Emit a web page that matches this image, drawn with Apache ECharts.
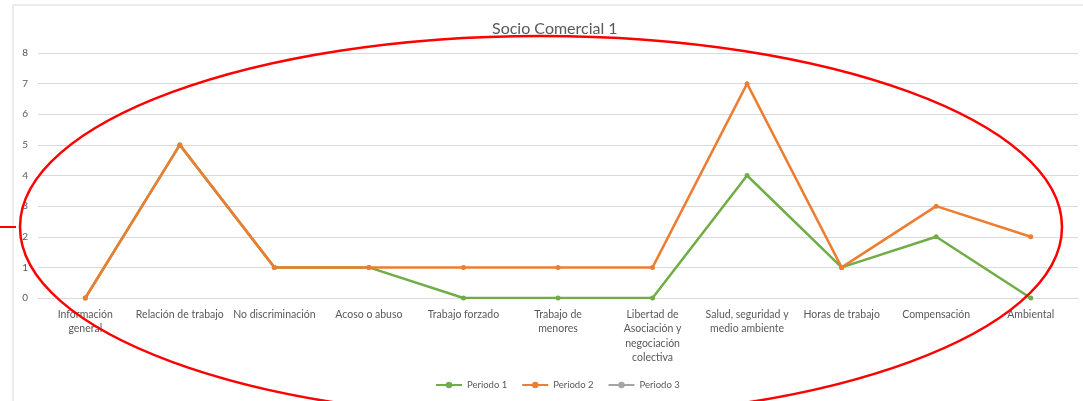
<!DOCTYPE html>
<html>
<head>
<meta charset="utf-8">
<script src="https://cdn.jsdelivr.net/npm/echarts@6/dist/echarts.min.js"></script>
<style>html,body{margin:0;padding:0;background:#fff;}#c{width:1083px;height:401px;}</style>
</head>
<body>
<div id="c"></div>
<script>
const categories = [
  'Información\ngeneral',
  'Relación de trabajo',
  'No discriminación',
  'Acoso o abuso',
  'Trabajo forzado',
  'Trabajo de\nmenores',
  'Libertad de\nAsociación y\nnegociación\ncolectiva',
  'Salud, seguridad y\nmedio ambiente',
  'Horas de trabajo',
  'Compensación',
  'Ambiental'
];
const periodo1 = [0, 5, 1, 1, 0, 0, 0, 4, 1, 2, 0];
const periodo2 = [0, 5, 1, 1, 1, 1, 1, 7, 1, 3, 2];
const periodo3 = [null, null, null, null, null, null, null, null, null, null, null];
const seriesNames = ['Periodo 1', 'Periodo 2', 'Periodo 3'];
const yTicks = { min: 0, max: 8, interval: 1 };

const chart = echarts.init(document.getElementById('c'));
const font = 'Lato, "Open Sans", sans-serif';
const mk = (name, data, color) => ({
  name, type: 'line', data,
  symbol: 'circle', symbolSize: 5,
  lineStyle: { color, width: 2.5 },
  itemStyle: { color },
  connectNulls: false
});
chart.setOption({
  animation: false,
  title: {
    text: 'Socio Comercial 1', left: 487, top: 16,
    textStyle: { fontFamily: font, fontSize: 16, fontWeight: 'normal', color: '#595959' }
  },
  legend: {
    data: seriesNames, left: 430, top: 375,
    itemWidth: 26, itemHeight: 8, itemGap: 14,
    textStyle: { fontFamily: font, fontSize: 9.5, color: '#595959' }
  },
  grid: { left: 38, right: 5, top: 53, bottom: 103 },
  xAxis: {
    type: 'category', data: categories,
    axisLine: { lineStyle: { color: '#d9d9d9' } },
    axisTick: { show: false },
    axisLabel: { interval: 0, fontFamily: font, fontSize: 10.5, color: '#595959', lineHeight: 14.5, margin: 9 }
  },
  yAxis: {
    type: 'value', min: yTicks.min, max: yTicks.max, interval: yTicks.interval,
    axisLine: { show: false }, axisTick: { show: false },
    axisLabel: { fontFamily: font, fontSize: 10, color: '#595959', margin: 10 },
    splitLine: { lineStyle: { color: '#d9d9d9', width: 1 } }
  },
  series: [
    mk(seriesNames[0], periodo1, '#70AD47'),
    mk(seriesNames[1], periodo2, '#ED7D31'),
    mk(seriesNames[2], periodo3, '#A5A5A5')
  ],
  graphic: [
    { type: 'rect', shape: { x: 13, y: 5, width: 1200, height: 500 }, style: { fill: null, stroke: '#d9d9d9', lineWidth: 1 }, z: -1 },
    { type: 'ellipse', shape: { cx: 541, cy: 227, rx: 521, ry: 191 }, style: { fill: null, stroke: '#ff0000', lineWidth: 2.5 }, z: 100 },
    { type: 'line', shape: { x1: 0, y1: 227, x2: 16, y2: 227 }, style: { stroke: '#ff0000', lineWidth: 2 }, z: 100 }
  ]
});
</script>
</body>
</html>
